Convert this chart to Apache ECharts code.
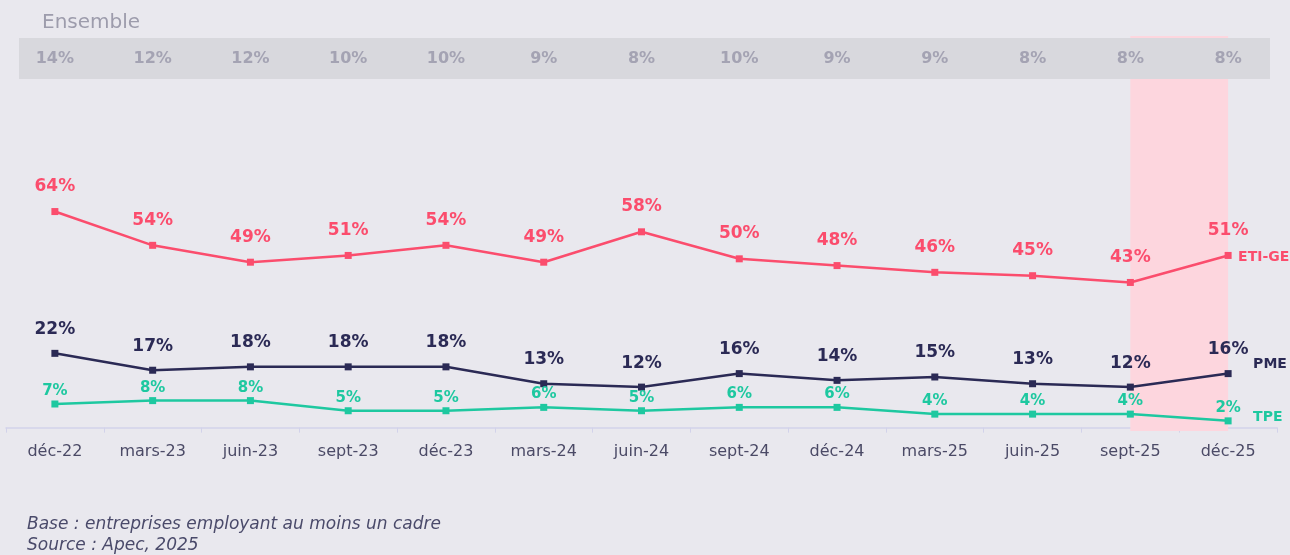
<!DOCTYPE html>
<html>
<head>
<meta charset="utf-8">
<script src="https://cdn.jsdelivr.net/npm/echarts@6/dist/echarts.min.js"></script>
<style>
  html, body { margin: 0; padding: 0; background: #e9e8ee; }
  #chart { width: 1290px; height: 555px; }
</style>
</head>
<body>
<div id="chart"></div>
<script>
  // periods
  var periods = ["déc-22", "mars-23", "juin-23", "sept-23", "déc-23", "mars-24", "juin-24",
    "sept-24", "déc-24", "mars-25", "juin-25", "sept-25", "déc-25"];
  // share per company size (%)
  var etiGe = [64, 54, 49, 51, 54, 49, 58, 50, 48, 46, 45, 43, 51];
  var pme = [22, 17, 18, 18, 18, 13, 12, 16, 14, 15, 13, 12, 16];
  var tpe = [7, 8, 8, 5, 5, 6, 5, 6, 6, 4, 4, 4, 2];
  var ensemble = [14, 12, 12, 10, 10, 9, 8, 10, 9, 9, 8, 8, 8];

  var font = "DejaVu Sans";
  var chart = echarts.init(document.getElementById("chart"));

  function lineSeries(name, data, color, labelSize, labelDist, endOffset) {
    return {
      name: name,
      type: "line",
      data: data,
      symbol: "rect",
      symbolSize: 7,
      lineStyle: { color: color, width: 2.5 },
      itemStyle: { color: color },
      label: {
        show: true,
        position: "top",
        distance: labelDist,
        formatter: "{c}%",
        color: color,
        fontFamily: font,
        fontWeight: "bold",
        fontSize: labelSize
      },
      endLabel: {
        show: true,
        formatter: name,
        color: color,
        fontFamily: font,
        fontWeight: "bold",
        fontSize: 14,
        offset: endOffset
      }
    };
  }

  var eti = lineSeries("ETI-GE", etiGe, "#fb4d6d", 17, 13, [2, 2]);
  eti.markArea = {
    silent: true,
    itemStyle: { color: "#fdd6de" },
    data: [[{ xAxis: "sept-25" }, { xAxis: "déc-25" }]]
  };

  chart.setOption({
    backgroundColor: "#e9e8ee",
    animation: false,
    title: {
      text: "Ensemble",
      left: 37,
      top: 8,
      textStyle: { color: "#9d9cac", fontFamily: font, fontWeight: "normal", fontSize: 20 }
    },
    graphic: [
      { type: "rect", z: 3, shape: { x: 19, y: 38, width: 1251, height: 41 }, style: { fill: "#d8d8dd" } },
      { type: "text", left: 27, top: 516, style: { text: "Base : entreprises employant au moins un cadre", fill: "#4a4a6a", font: "italic 17px " + font } },
      { type: "text", left: 27, top: 537, style: { text: "Source : Apec, 2025", fill: "#4a4a6a", font: "italic 17px " + font } }
    ],
    grid: [
      { left: 6, right: 13, top: 36, bottom: 124 },
      { left: 6, right: 13, top: 58, height: 1 }
    ],
    xAxis: [
      {
        type: "category",
        data: periods,
        boundaryGap: true,
        axisLine: { lineStyle: { color: "#d2d2ea", width: 1.5 } },
        axisTick: { show: true, length: 5, lineStyle: { color: "#d2d2ea" } },
        axisLabel: { color: "#4b4a66", fontFamily: font, fontSize: 16, margin: 13 }
      },
      {
        type: "category",
        gridIndex: 1,
        position: "top",
        z: 10,
        data: ensemble.map(function (v) { return v + "%"; }),
        axisLine: { show: false },
        axisTick: { show: false },
        axisLabel: {
          color: "#a4a3b3", fontFamily: font, fontWeight: "bold", fontSize: 16,
          margin: -1, verticalAlign: "middle"
        }
      }
    ],
    yAxis: [
      { type: "value", min: -1, max: 116, show: false, splitLine: { show: false } },
      { type: "value", gridIndex: 1, show: false }
    ],
    series: [
      eti,
      lineSeries("PME", pme, "#2b2a55", 17, 12, [17, -9]),
      lineSeries("TPE", tpe, "#1ec8a0", 15, 2, [17, -4])
    ]
  });
</script>
</body>
</html>
